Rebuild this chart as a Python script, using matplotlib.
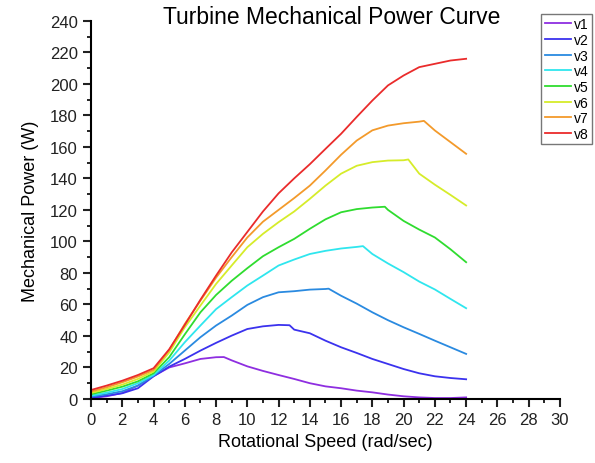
import matplotlib.pyplot as plt

plt.rcParams['font.family'] = ['Liberation Sans', 'DejaVu Sans']

# speed (rad/sec) and power (W), one pair per wind speed
x_v1 = [0, 1, 2, 3, 4, 5, 6, 7, 8, 8.5, 9, 10, 11, 12, 13, 14, 15, 16, 17, 18, 19, 20, 21, 22, 23, 24]
p_v1 = [0.6, 1.7, 3.8, 8.5, 14.5, 20, 22.6, 25.4, 26.5, 26.6, 24.5, 20.7, 17.8, 15.2, 12.7, 10,
        8, 6.8, 5.3, 4.2, 2.8, 1.7, 1, 0.6, 0.6, 1]

x_v2 = [0, 1, 2, 3, 4, 5, 6, 7, 8, 9, 10, 11, 12, 12.7, 13, 14, 15, 16, 17, 18, 19, 20, 21, 22, 23, 24]
p_v2 = [0.8, 2.1, 3.6, 6.8, 14.4, 20.5, 25.4, 30.7, 35.6, 40.2, 44.4, 46.1, 47, 46.8, 44, 41.7,
        37, 32.8, 29.2, 25.4, 22.2, 19, 16.3, 14.4, 13.3, 12.5]

x_v3 = [0, 1, 2, 3, 4, 5, 6, 7, 8, 9, 10, 11, 12, 13, 14, 15, 15.2, 16, 17, 18, 19, 20, 21, 22, 23, 24]
p_v3 = [1.5, 3, 4.9, 8.5, 14.8, 22.2, 30.7, 39.2, 46.6, 52.9, 59.7, 64.6, 67.7, 68.4, 69.4, 69.8,
        70, 65.5, 60.5, 55, 50, 45.5, 41.3, 37, 32.8, 28.6]

x_v4 = [0, 1, 2, 3, 4, 5, 6, 7, 8, 9, 10, 11, 12, 13, 14, 15, 16, 17, 17.4, 18, 19, 20, 21, 22, 23, 24]
p_v4 = [2.1, 4, 6.3, 10, 15.2, 24.3, 36, 46.6, 57, 64.6, 72, 78.3, 84.7, 88.5, 92, 94, 95.5, 96.5,
        97, 92, 86, 80.5, 74.5, 69.5, 63.5, 57.6]

x_v5 = [0, 1, 2, 3, 4, 5, 6, 7, 8, 9, 10, 11, 12, 13, 14, 15, 16, 17, 18, 18.8, 19, 20, 21, 22, 23, 24]
p_v5 = [3, 5.3, 7.8, 11.2, 16.3, 26.5, 41, 55, 66, 75, 83, 90.6, 96.3, 101.6, 108, 114, 118.5,
        120.5, 121.5, 122, 120, 113, 107.5, 102.5, 95, 86.8]

x_v6 = [0, 1, 2, 3, 4, 5, 6, 7, 8, 9, 10, 11, 12, 13, 14, 15, 16, 17, 18, 19, 20, 20.3, 21, 22, 23, 24]
p_v6 = [3.8, 6.3, 9.1, 12.7, 17.4, 29.5, 45.5, 59.3, 73, 84.7, 96.3, 104.8, 112.2, 119, 127, 135.4,
        143, 148, 150.3, 151.3, 151.5, 152, 143, 136, 129.5, 122.8]

x_v7 = [0, 1, 2, 3, 4, 5, 6, 7, 8, 9, 10, 11, 12, 13, 14, 15, 16, 17, 18, 19, 20, 21, 21.3, 22, 23, 24]
p_v7 = [4.7, 7.4, 10.6, 14.2, 18.4, 31, 47.6, 62.4, 77, 90, 102.5, 112.5, 120, 127.5, 135.4, 145,
        155, 164, 170.5, 173.5, 175, 176, 176.5, 170.4, 163, 155.6]

x_v8 = [0, 1, 2, 3, 4, 5, 6, 7, 8, 9, 10, 11, 12, 13, 14, 15, 16, 17, 18, 19, 20, 21, 22, 23, 24]
p_v8 = [5.7, 8.5, 11.6, 15.2, 19.5, 31.5, 47, 63, 78.3, 93, 106, 119, 130.5, 140, 149, 158.7,
        168.3, 179, 189.4, 199, 205.3, 210.6, 212.7, 214.8, 215.9]

labels = ['v1', 'v2', 'v3', 'v4', 'v5', 'v6', 'v7', 'v8']
colors = ['#8e2ee0', '#3b32ee', '#2a8ae0', '#2fe6ee', '#2fdc2f', '#d6ec2a', '#f39a2b', '#ea2b2b']
xs = [x_v1, x_v2, x_v3, x_v4, x_v5, x_v6, x_v7, x_v8]
ps = [p_v1, p_v2, p_v3, p_v4, p_v5, p_v6, p_v7, p_v8]

fig = plt.figure(figsize=(5.95, 4.64), dpi=100)
ax = fig.add_axes([0.153, 0.138, 0.788, 0.815])

for x, p, c, lab in zip(xs, ps, colors, labels):
    ax.plot(x, p, color=c, lw=1.3, label=lab)

ax.set_xlim(0, 30)
ax.set_ylim(0, 240)
ax.set_xticks(range(0, 31, 2))
ax.set_xticks(range(0, 31, 1), minor=True)
ax.set_yticks(range(0, 241, 20))
ax.set_yticks(range(0, 241, 10), minor=True)
ax.spines['top'].set_visible(False)
ax.spines['right'].set_visible(False)
for s in ['left', 'bottom']:
    ax.spines[s].set_linewidth(1.5)
ax.tick_params(which='major', direction='out', length=6, width=1.5, labelsize=12, colors='#222222')
ax.tick_params(which='minor', direction='out', length=3, width=1.2)

ax.set_xlabel('Rotational Speed (rad/sec)', fontsize=13, labelpad=4)
ax.set_ylabel('Mechanical Power (W)', fontsize=13, labelpad=8)
ax.text(0.514, 1.011, 'Turbine Mechanical Power Curve', fontsize=16.5, ha='center', va='center',
        transform=ax.transAxes)

leg = ax.legend(loc='upper right', bbox_to_anchor=(0.995, 0.968), bbox_transform=fig.transFigure,
                fontsize=10, frameon=True, fancybox=False, borderaxespad=0, handlelength=1.9,
                handletextpad=0.2, labelspacing=0.12, borderpad=0.25)
leg.get_frame().set_edgecolor('#555555')
leg.get_frame().set_linewidth(1)

plt.savefig('out.png', dpi=100)
